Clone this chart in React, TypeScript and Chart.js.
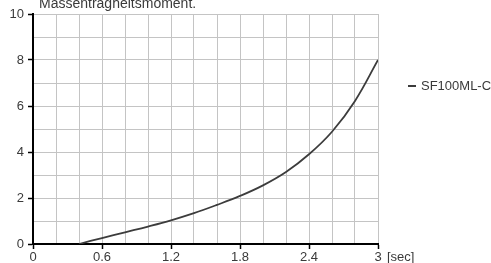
import React, { useEffect, useRef } from "react";
import { Chart, registerables } from "chart.js";

Chart.register(...registerables);

const titleText = "Massenträgheitsmoment.";
const seriesLabel = "SF100ML-C";
const xUnit = "[sec]";
const xValues = [0.4, 0.6, 0.8, 1.0, 1.2, 1.4, 1.6, 1.8, 2.0, 2.2, 2.4, 2.6, 2.8, 3.0];
const yValues = [0, 0.26, 0.51, 0.76, 1.03, 1.34, 1.7, 2.09, 2.55, 3.13, 3.9, 4.88, 6.22, 8.0];
const xTickLabels = ["0", "0.6", "1.2", "1.8", "2.4", "3"];
const yTickLabels = ["0", "2", "4", "6", "8", "10"];

const FONT = "'Liberation Sans', Arial, sans-serif";
const TEXT = "#3a3a3a";
const LINE = "#3c3c3c";

function findLabel(list: string[], v: number): string {
  for (const l of list) if (Math.abs(parseFloat(l) - v) < 1e-6) return l;
  return "";
}

const extrasPlugin = {
  id: "extras",
  afterDraw(chart: any) {
    const ctx = chart.ctx;
    const area = chart.chartArea;
    ctx.save();
    ctx.fillStyle = TEXT;
    ctx.font = `14px ${FONT}`;
    ctx.textAlign = "left";
    ctx.textBaseline = "alphabetic";
    ctx.fillText(titleText, 39, 7.5);
    ctx.font = `13px ${FONT}`;
    ctx.textBaseline = "top";
    ctx.fillText(xUnit, area.right + 9, area.bottom + 7);
    const ds = chart.data.datasets[0];
    ctx.strokeStyle = LINE;
    ctx.lineWidth = 2;
    ctx.beginPath();
    ctx.moveTo(408, 86);
    ctx.lineTo(416, 86);
    ctx.stroke();
    ctx.textBaseline = "middle";
    ctx.fillText(ds.label, 421, 86.5);
    ctx.restore();
  },
};

export default function App() {
  const ref = useRef<HTMLCanvasElement | null>(null);
  useEffect(() => {
    if (!ref.current) return;
    const chart = new Chart(ref.current, {
      type: "line",
      data: {
        datasets: [
          {
            label: seriesLabel,
            data: xValues.map((x, i) => ({ x, y: yValues[i] })),
            borderColor: LINE,
            borderWidth: 1.8,
            pointRadius: 0,
            tension: 0.4,
            fill: false,
          },
        ],
      },
      options: {
        responsive: false,
        animation: false,
        layout: { padding: { left: 0, top: 14, right: 113, bottom: 0 } },
        plugins: { legend: { display: false }, tooltip: { enabled: false }, title: { display: false } },
        scales: {
          x: {
            type: "linear",
            min: 0,
            max: 3,
            afterFit: (s: any) => { s.height = 19; },
            ticks: {
              stepSize: 0.2,
              autoSkip: false,
              maxRotation: 0,
              padding: 1,
              color: TEXT,
              font: { family: FONT, size: 13 },
              callback: (v: any) => findLabel(xTickLabels, Number(v)),
            },
            grid: {
              color: "#c4c4c4",
              lineWidth: 1,
              tickLength: 5,
              tickWidth: 1.5,
              tickColor: (c: any) => (c.tick && findLabel(xTickLabels, c.tick.value) ? "#000" : "rgba(0,0,0,0)"),
            },
            border: { color: "#000", width: 2 },
          },
          y: {
            min: 0,
            max: 10,
            afterFit: (s: any) => { s.width = 33; },
            ticks: {
              stepSize: 1,
              padding: 4,
              color: TEXT,
              font: { family: FONT, size: 13 },
              callback: (v: any) => findLabel(yTickLabels, Number(v)),
            },
            grid: {
              color: "#c4c4c4",
              lineWidth: 1,
              tickLength: 5,
              tickWidth: 1.5,
              tickColor: (c: any) => (c.tick && findLabel(yTickLabels, c.tick.value) ? "#000" : "rgba(0,0,0,0)"),
            },
            border: { color: "#000", width: 2 },
          },
        },
      },
      plugins: [extrasPlugin],
    } as any);
    return () => chart.destroy();
  }, []);
  return (
    <div style={{ position: "absolute", left: 0, top: 0, width: 491, height: 263, background: "#fff" }}>
      <canvas ref={ref} width={491} height={263} style={{ display: "block" }} />
    </div>
  );
}
